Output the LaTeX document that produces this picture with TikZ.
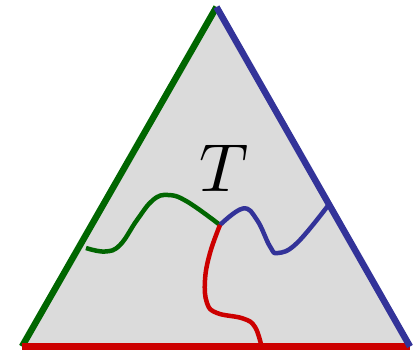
\documentclass[tikz,border=0pt]{standalone}
\usetikzlibrary{calc}

\begin{document}
\begin{tikzpicture}[x=1pt,y=1pt]
\colorlet{sidegreen}{green!40!black}
\colorlet{sideblue}{rgb,255:red,51;green,51;blue,153}
\colorlet{sidered}{rgb,255:red,204;green,0;blue,0}
\colorlet{facegray}{black!14}
\tikzset{edge/.style={line width=6.5pt},
         crack/.style={line width=4.5pt,line join=round}}
\useasboundingbox (0,0) rectangle (417,351);
\coordinate (A) at (22,4.5);
\coordinate (B) at (410,4.5);
\coordinate (C) at (216.5,344);
\coordinate (M) at (220,126);
\coordinate (G) at (86,103);
\coordinate (H) at (328.5,146);
\coordinate (R) at (261.5,4.5);

\fill[facegray] (A) -- (B) -- (C) -- cycle;
\draw[edge,sidegreen] (A) -- (C);
\draw[edge,sidered] (A) -- (B);
\draw[edge,sideblue] (C) -- (B);

\draw[crack,sidegreen] plot[smooth,tension=0.7] coordinates
  {(G) (105,99.5) (120,106) (137,131) (153,151) (168,156) (187,149.5) (M)};
\draw[crack,sideblue] plot[smooth,tension=0.7] coordinates
  {(M) (243,142.5) (257,131) (270,104.5) (278,98) (297,108) (H)};
\draw[crack,sidered] plot[smooth,tension=0.7] coordinates
  {(M) (210,98) (205,71) (207,48) (217,38) (243,32.5) (255,24) (R)};

\node[inner sep=0pt,scale=6.8] (T) at (224,183) {$T$};
\end{tikzpicture}
\end{document}
